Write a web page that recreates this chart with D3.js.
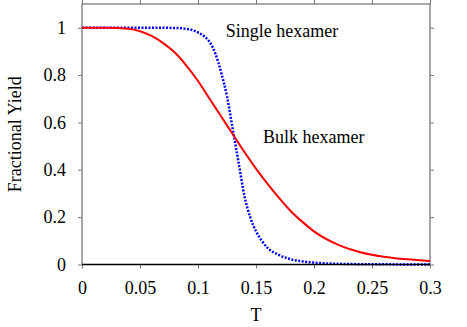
<!DOCTYPE html>
<html>
<head>
<meta charset="utf-8">
<script src="https://cdn.jsdelivr.net/npm/d3@7"></script>
<style>
  body { margin: 0; background: #fff; }
</style>
</head>
<body>
<div id="chart"></div>
<script>
// Data
const singleT = [0, 0.05, 0.08, 0.09, 0.095, 0.1, 0.105, 0.11, 0.115, 0.12, 0.125, 0.13, 0.135, 0.14, 0.145, 0.15, 0.155, 0.16, 0.17, 0.18, 0.19, 0.2, 0.22, 0.25, 0.3];
const singleY = [1, 1, 0.999, 0.995, 0.99, 0.98, 0.965, 0.94, 0.89, 0.81, 0.71, 0.57, 0.43, 0.29, 0.2, 0.14, 0.1, 0.07, 0.04, 0.022, 0.013, 0.008, 0.003, 0.001, 0];
const bulkT = [0, 0.02, 0.04, 0.05, 0.06, 0.07, 0.08, 0.09, 0.1, 0.11, 0.12, 0.13, 0.14, 0.15, 0.16, 0.17, 0.18, 0.19, 0.2, 0.22, 0.24, 0.26, 0.28, 0.3];
const bulkY = [1, 1, 0.995, 0.985, 0.965, 0.935, 0.895, 0.84, 0.775, 0.7, 0.625, 0.55, 0.475, 0.405, 0.34, 0.28, 0.225, 0.18, 0.14, 0.085, 0.052, 0.033, 0.022, 0.015];
const xTicks = [0, 0.05, 0.1, 0.15, 0.2, 0.25, 0.3];
const yTicks = [0, 0.2, 0.4, 0.6, 0.8, 1];

const W = 467, H = 327;
const margin = {top: 4, right: 37, bottom: 62.5, left: 82};
const width = W - margin.left - margin.right;
const height = H - margin.top - margin.bottom;
const serif = "'Liberation Serif', 'Times New Roman', serif";

const svg = d3.select("#chart").append("svg").attr("width", W).attr("height", H);
const g = svg.append("g").attr("transform", `translate(${margin.left},${margin.top})`);

const x = d3.scaleLinear().domain([0, 0.3]).range([0, width]);
const y = d3.scaleLinear().domain([0, 1.1]).range([height, 0]);

// Axes
const fmt = d => String(+d.toFixed(2));
function styleAxis(sel) {
  sel.select(".domain").remove();
  sel.selectAll(".tick line").attr("stroke", "#777");
}
g.append("g")
  .attr("transform", `translate(0,${height})`)
  .call(d3.axisBottom(x).tickValues(xTicks).tickSize(4).tickPadding(13).tickFormat(fmt))
  .call(styleAxis);
g.append("g")
  .call(d3.axisTop(x).tickValues(xTicks).tickSize(4).tickFormat(""))
  .call(styleAxis);
g.append("g")
  .call(d3.axisLeft(y).tickValues(yTicks).tickSize(4).tickPadding(12).tickFormat(fmt))
  .call(styleAxis);
g.append("g")
  .attr("transform", `translate(${width},0)`)
  .call(d3.axisRight(y).tickValues(yTicks).tickSize(4).tickFormat(""))
  .call(styleAxis);

// Frame
g.append("line").attr("x1", 0).attr("x2", 0).attr("y1", 0).attr("y2", height).attr("stroke", "#888").attr("stroke-width", 1.5);
g.append("line").attr("x1", width).attr("x2", width).attr("y1", 0).attr("y2", height).attr("stroke", "#888").attr("stroke-width", 1.5);
g.append("line").attr("x1", 0).attr("x2", width).attr("y1", 0).attr("y2", 0).attr("stroke", "#555").attr("stroke-width", 1.2);

// Curves
const line = d3.line().x(d => x(d[0])).y(d => y(d[1])).curve(d3.curveMonotoneX);
g.append("path")
  .datum(singleT.map((t, i) => [t, singleY[i]]))
  .attr("d", line).attr("fill", "none")
  .attr("stroke", "#0000ff").attr("stroke-width", 2.5).attr("stroke-dasharray", "2,1.5");
g.append("path")
  .datum(bulkT.map((t, i) => [t, bulkY[i]]))
  .attr("d", line).attr("fill", "none")
  .attr("stroke", "#ff0000").attr("stroke-width", 2);

g.append("line").attr("x1", 0).attr("x2", width).attr("y1", height).attr("y2", height).attr("stroke", "#000").attr("stroke-width", 1.5);

// Labels
g.append("text").attr("x", x(0.124)).attr("y", 33).text("Single hexamer");
g.append("text").attr("x", x(0.156)).attr("y", 139).text("Bulk hexamer");

svg.append("text").attr("x", margin.left + width / 2).attr("y", 321)
  .attr("text-anchor", "middle").text("T");
svg.append("text")
  .attr("transform", `translate(21,${margin.top + y(0.55)}) rotate(-90)`)
  .attr("text-anchor", "middle").text("Fractional Yield");

svg.selectAll("text")
  .style("font-family", serif)
  .style("font-size", "18px")
  .style("fill", "#000");
</script>
</body>
</html>
